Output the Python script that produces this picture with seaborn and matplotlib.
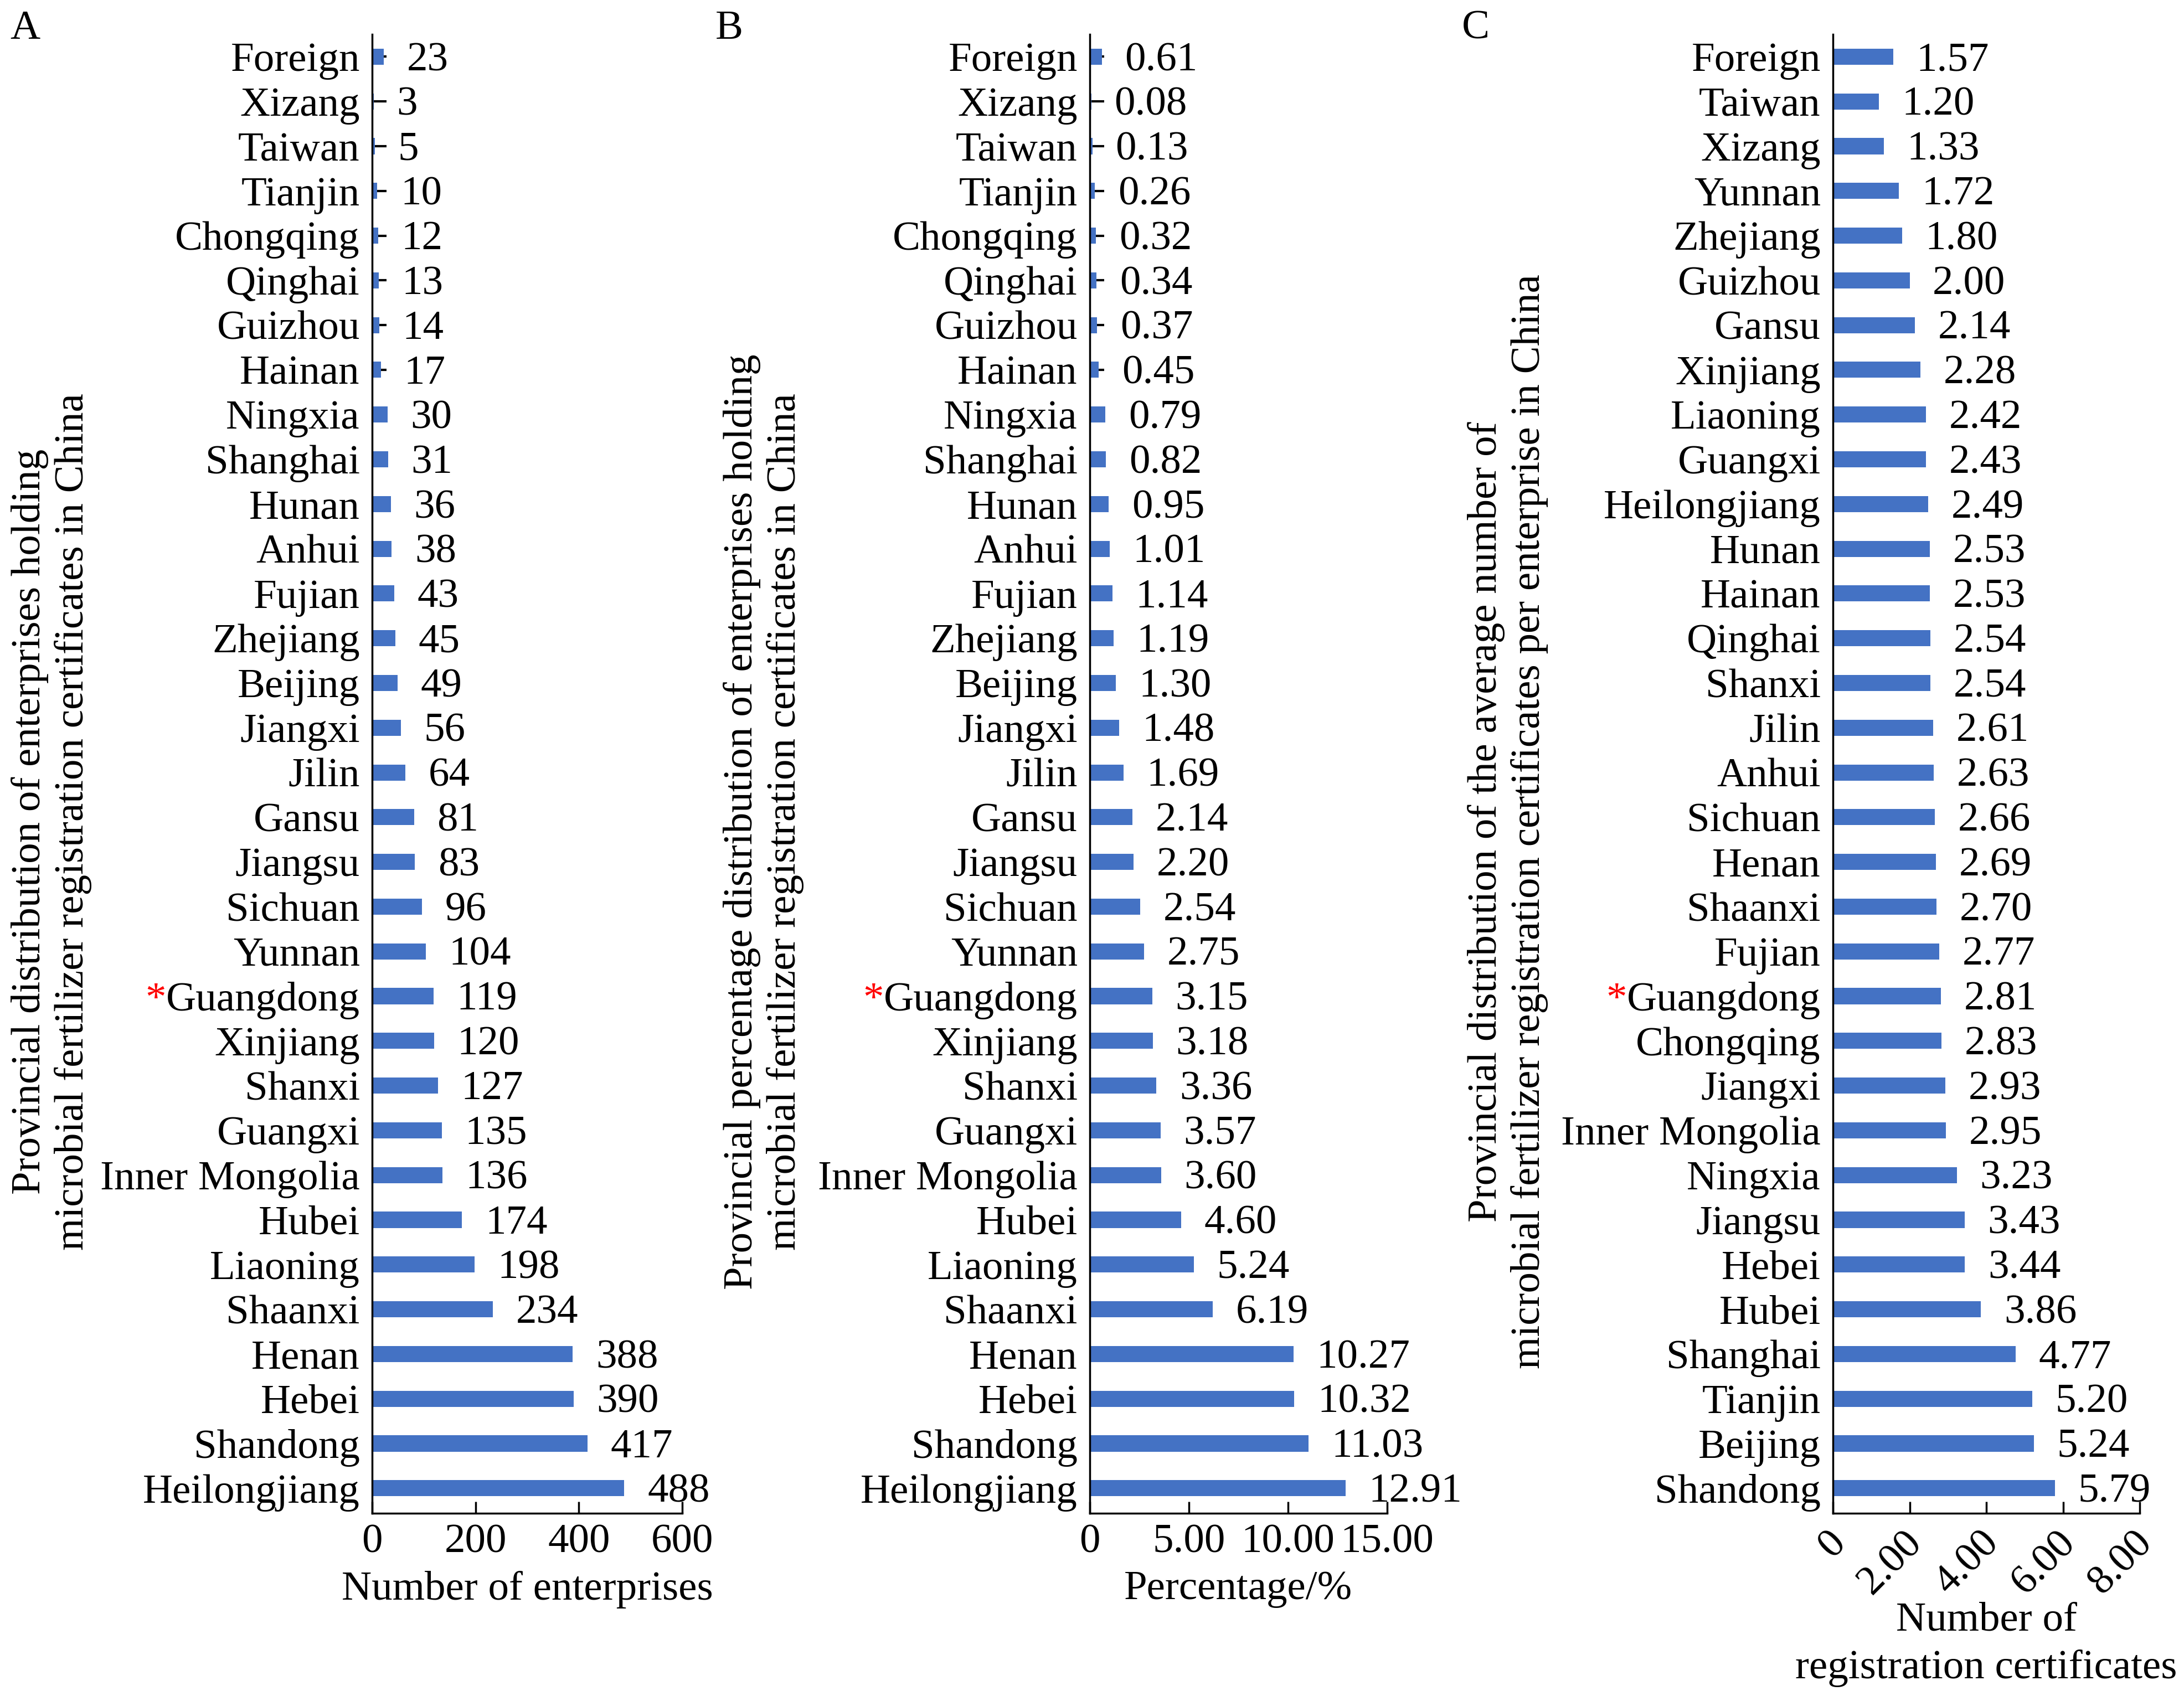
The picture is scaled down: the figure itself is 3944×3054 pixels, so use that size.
import matplotlib
matplotlib.use("Agg")
import matplotlib.pyplot as plt
import matplotlib.transforms as mtransforms
import seaborn as sns
import pandas as pd

# Panel A / B: provinces in the order they are shown (top to bottom)
provinces_ab = ["Foreign", "Xizang", "Taiwan", "Tianjin", "Chongqing", "Qinghai",
                "Guizhou", "Hainan", "Ningxia", "Shanghai", "Hunan", "Anhui",
                "Fujian", "Zhejiang", "Beijing", "Jiangxi", "Jilin", "Gansu",
                "Jiangsu", "Sichuan", "Yunnan", "Guangdong", "Xinjiang", "Shanxi",
                "Guangxi", "Inner Mongolia", "Hubei", "Liaoning", "Shaanxi",
                "Henan", "Hebei", "Shandong", "Heilongjiang"]
enterprises = [23, 3, 5, 10, 12, 13, 14, 17, 30, 31, 36, 38, 43, 45, 49, 56, 64,
               81, 83, 96, 104, 119, 120, 127, 135, 136, 174, 198, 234, 388, 390,
               417, 488]
percentages = [0.61, 0.08, 0.13, 0.26, 0.32, 0.34, 0.37, 0.45, 0.79, 0.82, 0.95,
               1.01, 1.14, 1.19, 1.30, 1.48, 1.69, 2.14, 2.20, 2.54, 2.75, 3.15,
               3.18, 3.36, 3.57, 3.60, 4.60, 5.24, 6.19, 10.27, 10.32, 11.03, 12.91]

# Panel C has its own order
provinces_c = ["Foreign", "Taiwan", "Xizang", "Yunnan", "Zhejiang", "Guizhou",
               "Gansu", "Xinjiang", "Liaoning", "Guangxi", "Heilongjiang", "Hunan",
               "Hainan", "Qinghai", "Shanxi", "Jilin", "Anhui", "Sichuan", "Henan",
               "Shaanxi", "Fujian", "Guangdong", "Chongqing", "Jiangxi",
               "Inner Mongolia", "Ningxia", "Jiangsu", "Hebei", "Hubei", "Shanghai",
               "Tianjin", "Beijing", "Shandong"]
avg_certificates = [1.57, 1.20, 1.33, 1.72, 1.80, 2.00, 2.14, 2.28, 2.42, 2.43,
                    2.49, 2.53, 2.53, 2.54, 2.54, 2.61, 2.63, 2.66, 2.69, 2.70,
                    2.77, 2.81, 2.83, 2.93, 2.95, 3.23, 3.43, 3.44, 3.86, 4.77,
                    5.20, 5.24, 5.79]

xticks_a = [0, 200, 400, 600]
xticklabels_a = ["0", "200", "400", "600"]
xticks_b = [0, 5, 10, 15]
xticklabels_b = ["0", "5.00", "10.00", "15.00"]
xticks_c = [0, 2, 4, 6, 8]
xticklabels_c = ["0", "2.00", "4.00", "6.00", "8.00"]

ylabel_a = ("Provincial distribution of enterprises holding\n"
            "microbial fertilizer registration certificates in China")
ylabel_b = ("Provincial percentage distribution of enterprises holding\n"
            "microbial fertilizer registration certificates in China")
ylabel_c = ("Provincial distribution of the average number of\n"
            "microbial fertilizer registration certificates per enterprise in China")

BLUE = "#4472C4"
W, H = 3944, 3054

sns.set_style("ticks")
plt.rcParams['font.family'] = ['Liberation Serif', 'DejaVu Serif']
plt.rcParams['font.size'] = 54
plt.rcParams['text.color'] = 'black'
plt.rcParams['axes.labelcolor'] = 'black'
plt.rcParams['xtick.color'] = 'black'
plt.rcParams['ytick.color'] = 'black'

fig = plt.figure(figsize=(W / 100, H / 100), dpi=100)


def px_rect(left, right, top, bottom):
    return [left / W, 1 - bottom / H, (right - left) / W, (bottom - top) / H]


def draw_panel(rect, names, values, xticks, xticklabels, fmt, xlabel, rotate=False):
    ax = fig.add_axes(rect)
    df = pd.DataFrame({"province": names, "value": values})
    sns.barplot(data=df, x="value", y="province", orient="h", color=BLUE,
                saturation=1, width=0.36, linewidth=0, ax=ax)
    ax.set_xlim(xticks[0], xticks[-1])
    ax.set_ylim(len(names) - 0.44, -0.5)
    ax.set_xticks(xticks)
    ax.set_ylabel("")
    sns.despine(ax=ax)
    for s in ("left", "bottom"):
        ax.spines[s].set_linewidth(2.5)
        ax.spines[s].set_color("black")
    ax.tick_params(axis="y", direction="in", length=19, width=3, pad=16)
    ax.tick_params(axis="x", direction="in", length=15, width=2.5, pad=14)
    if rotate:
        ax.set_xticklabels(xticklabels, rotation=45, ha="right")
        shift = mtransforms.ScaledTranslation(26 / 72, 0, fig.dpi_scale_trans)
        for lab in ax.get_xticklabels():
            lab.set_transform(lab.get_transform() + shift)
        ax.set_xlabel(xlabel, labelpad=0, linespacing=1.35)
    else:
        ax.set_xticklabels(xticklabels)
        ax.set_xlabel(xlabel, labelpad=12)
    labels = [fmt % v for v in values]
    anns = ax.bar_label(ax.containers[0], labels=labels, padding=30, clip_on=False)
    for a in anns:
        a.xyann = (30, -5)
    for lab in ax.get_yticklabels():
        if lab.get_text() == "Guangdong":
            ax.annotate("*", xy=(0, 0.5), xycoords=lab, ha="right", va="center",
                        color="red")
    return ax


ax_a = draw_panel(px_rect(672, 1232, 62, 2733), provinces_ab, enterprises,
                  xticks_a, xticklabels_a, "%d", "Number of enterprises")
ax_b = draw_panel(px_rect(1968, 2505, 62, 2733), provinces_ab, percentages,
                  xticks_b, xticklabels_b, "%.2f", "Percentage/%")
ax_c = draw_panel(px_rect(3310, 3864, 62, 2733), provinces_c, avg_certificates,
                  xticks_c, xticklabels_c, "%.2f",
                  "Number of\nregistration certificates", rotate=True)

for x, text in [(93, ylabel_a), (1379, ylabel_b), (2723, ylabel_c)]:
    fig.text(x / W, 1 - 1484 / H, text, rotation=90, ha="center", va="center",
             multialignment="center")

for x, letter in [(18, "A"), (1292, "B"), (2640, "C")]:
    fig.text(x / W, 1 - 18 / H, letter, ha="left", va="top")

fig.savefig("out.png", dpi=100)
plt.close(fig)
